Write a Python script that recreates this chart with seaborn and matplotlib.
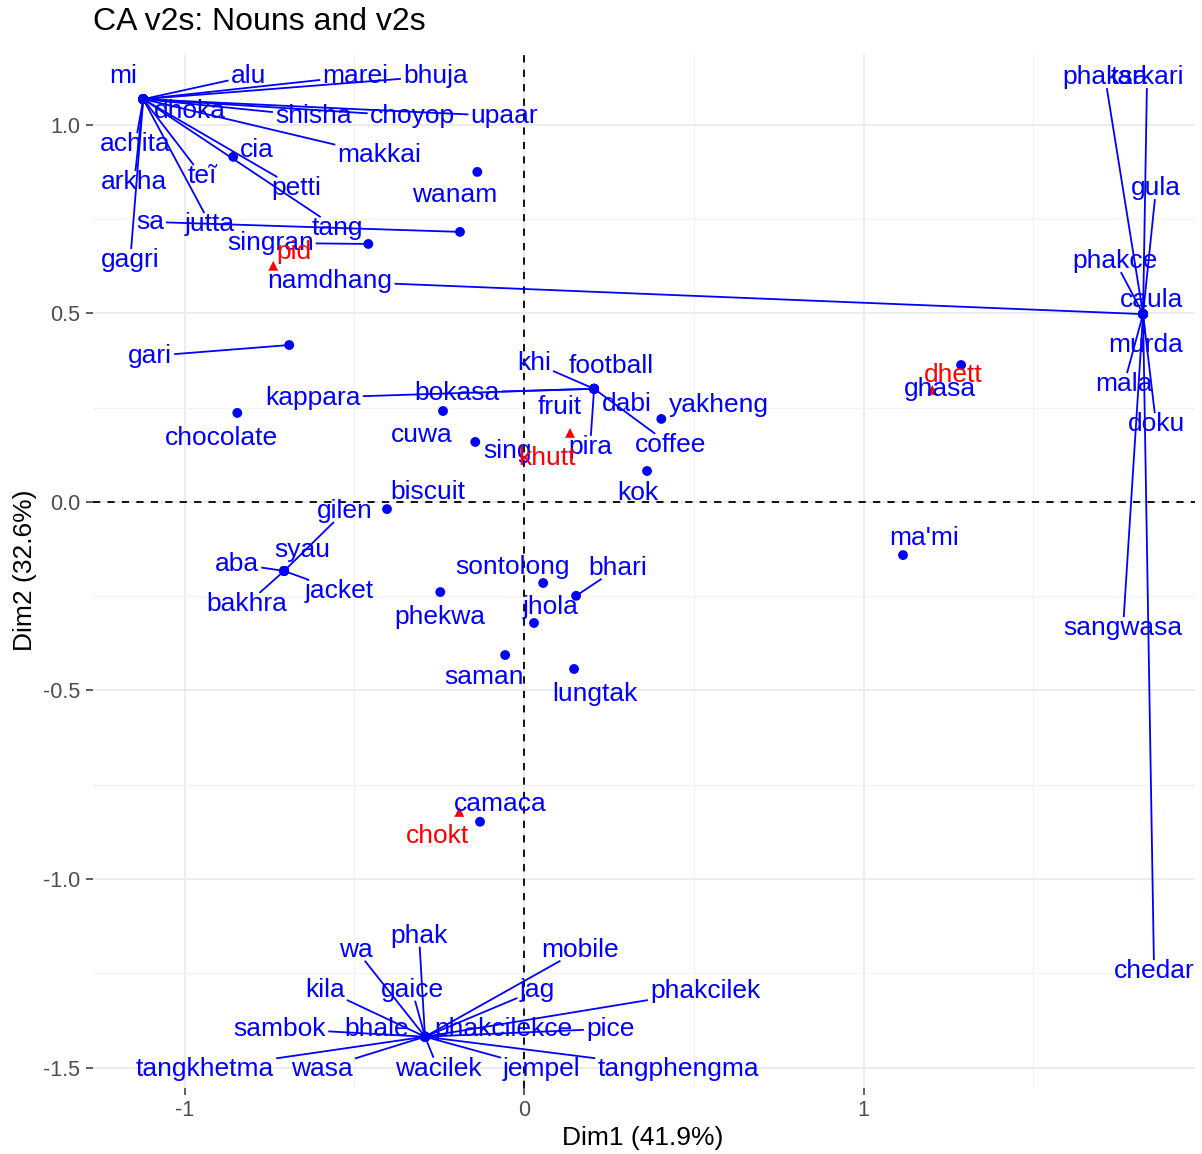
import numpy as np
import pandas as pd
import matplotlib
matplotlib.use("Agg")
import matplotlib.pyplot as plt
import matplotlib.transforms as mtransforms
from matplotlib.ticker import MultipleLocator
import seaborn as sns

# ---- Row coordinates: nouns (Dim1, Dim2) ----
nouns = [
    "mi", "alu", "marei", "bhuja", "dhoka", "shisha", "choyop", "upaar",
    "achita", "makkai", "arkha", "teĩ", "petti", "tang", "jutta", "gagri",
    "cia", "wanam", "sa", "singran", "gari", "chocolate", "cuwa", "sing",
    "khi", "football", "dabi", "fruit", "pira", "coffee", "kappara", "bokasa",
    "yakheng", "kok", "ghasa", "ma'mi",
    "phaksa", "tarkari", "gula", "phakce", "caula", "murda", "mala", "doku",
    "sangwasa", "chedar", "namdhang",
    "biscuit", "aba", "syau", "bakhra", "jacket", "gilen",
    "phekwa", "sontolong", "bhari", "jhola", "saman", "lungtak", "camaca",
    "phak", "wa", "mobile", "kila", "gaice", "jag", "phakcilek", "sambok",
    "bhale", "phakcilekce", "pice", "tangkhetma", "wasa", "wacilek", "jempel",
    "tangphengma",
]
noun_dim1 = [
    -1.122, -1.122, -1.122, -1.122, -1.122, -1.122, -1.122, -1.122,
    -1.122, -1.122, -1.122, -1.122, -1.122, -1.122, -1.122, -1.122,
    -0.857, -0.138, -0.189, -0.459, -0.692, -0.845, -0.239, -0.144,
    0.206, 0.206, 0.206, 0.206, 0.206, 0.206, 0.206, 0.206,
    0.404, 0.362, 1.287, 1.116,
    1.823, 1.823, 1.823, 1.823, 1.823, 1.823, 1.823, 1.823,
    1.823, 1.823, 1.823,
    -0.404, -0.707, -0.707, -0.707, -0.707, -0.707,
    -0.247, 0.056, 0.153, 0.029, -0.056, 0.147, -0.130,
    -0.292, -0.292, -0.292, -0.292, -0.292, -0.292, -0.292, -0.292,
    -0.292, -0.292, -0.292, -0.292, -0.292, -0.292, -0.292,
    -0.292,
]
noun_dim2 = [
    1.068, 1.068, 1.068, 1.068, 1.068, 1.068, 1.068, 1.068,
    1.068, 1.068, 1.068, 1.068, 1.068, 1.068, 1.068, 1.068,
    0.915, 0.875, 0.716, 0.684, 0.416, 0.236, 0.241, 0.159,
    0.300, 0.300, 0.300, 0.300, 0.300, 0.300, 0.300, 0.300,
    0.220, 0.082, 0.363, -0.141,
    0.498, 0.498, 0.498, 0.498, 0.498, 0.498, 0.498, 0.498,
    0.498, 0.498, 0.498,
    -0.019, -0.183, -0.183, -0.183, -0.183, -0.183,
    -0.239, -0.215, -0.249, -0.321, -0.406, -0.443, -0.848,
    -1.418, -1.418, -1.418, -1.418, -1.418, -1.418, -1.418, -1.418,
    -1.418, -1.418, -1.418, -1.418, -1.418, -1.418, -1.418,
    -1.418,
]

# ---- Column coordinates: v2s (Dim1, Dim2) ----
v2s = ["pid", "khutt", "dhett", "chokt"]
v2_dim1 = [-0.739, 0.135, 1.202, -0.191]
v2_dim2 = [0.626, 0.183, 0.297, -0.822]

pct_dim1 = 41.9
pct_dim2 = 32.6

# Label placement (pixel offsets from each point: right, up), repel-style layout
label_offset = {
    "mi": (-20, 23), "alu": (105, 23), "marei": (212, 23), "bhuja": (292, 23),
    "dhoka": (47, -12), "shisha": (170, -17), "choyop": (269, -17),
    "upaar": (361, -17), "achita": (-8, -45), "makkai": (236, -56),
    "arkha": (-9, -83), "teĩ": (59, -77), "petti": (153, -89),
    "tang": (194, -129), "jutta": (67, -125), "gagri": (-13, -161),
    "cia": (24, 7), "wanam": (-23, -23), "sa": (-310, 10),
    "singran": (-98, 1), "gari": (-139, -11), "chocolate": (-16, -25),
    "cuwa": (-21, -24), "sing": (32, -9),
    "khi": (-60, 26), "football": (17, 23), "dabi": (33, -15),
    "fruit": (-34, -18), "pira": (-4, -58), "coffee": (76, -56),
    "kappara": (-281, -9), "bokasa": (-137, -4),
    "yakheng": (58, 14), "kok": (-9, -22), "ghasa": (-21, -24),
    "ma'mi": (21, 17),
    "phaksa": (-38, 237), "tarkari": (4, 237), "gula": (13, 126),
    "phakce": (-28, 53), "caula": (9, 14), "murda": (3, -31),
    "mala": (-19, -70), "doku": (13, -110), "sangwasa": (-20, -314),
    "chedar": (11, -657), "namdhang": (-813, 33),
    "biscuit": (41, 17), "aba": (-47, 7), "syau": (18, 21),
    "bakhra": (-37, -33), "jacket": (55, -20), "gilen": (61, 60),
    "phekwa": (0, -25), "sontolong": (-31, 16), "bhari": (42, 28),
    "jhola": (17, 16), "saman": (-21, -22), "lungtak": (21, -25),
    "camaca": (20, 18),
    "phak": (-6, 101), "wa": (-69, 87), "mobile": (155, 87),
    "kila": (-100, 47), "gaice": (-13, 47), "jag": (112, 47),
    "phakcilek": (280, 46), "sambok": (-145, 8), "bhale": (-48, 8),
    "phakcilekce": (78, 8), "pice": (185, 8), "tangkhetma": (-220, -32),
    "wasa": (-103, -32), "wacilek": (13, -32), "jempel": (116, -32),
    "tangphengma": (253, -32),
    "pid": (21, 14), "khutt": (-23, -25), "dhett": (21, 15),
    "chokt": (-22, -24),
}

BLUE = "#0000FF"
RED = "#FF0000"

df = pd.concat([
    pd.DataFrame({"name": nouns, "Dim1": noun_dim1, "Dim2": noun_dim2, "kind": "row"}),
    pd.DataFrame({"name": v2s, "Dim1": v2_dim1, "Dim2": v2_dim2, "kind": "col"}),
], ignore_index=True)

sns.set_theme(style="white")
plt.rcParams["font.family"] = ["Liberation Sans", "DejaVu Sans"]
plt.rcParams["axes.unicode_minus"] = False

fig = plt.figure(figsize=(12.02, 11.54), dpi=100)
ax = fig.add_axes([93 / 1202, 1 - 1088 / 1154, (1195 - 93) / 1202, (1088 - 55) / 1154])

XLIM = (-1.27, 1.976)
YLIM = (-1.554, 1.185)

# grid (major + minor, theme_minimal style)
ax.xaxis.set_major_locator(MultipleLocator(1.0))
ax.xaxis.set_minor_locator(MultipleLocator(0.5))
ax.yaxis.set_major_locator(MultipleLocator(0.5))
ax.yaxis.set_minor_locator(MultipleLocator(0.25))
ax.set_xlim(*XLIM)
ax.set_ylim(*YLIM)
ax.grid(which="major", color="#EBEBEB", lw=1.3, zorder=0)
ax.grid(which="minor", color="#F2F2F2", lw=0.9, zorder=0)
ax.set_axisbelow(True)
for s in ax.spines.values():
    s.set_visible(False)
ax.tick_params(which="major", length=5, width=1.1, color="#333333",
               labelsize=15.5, labelcolor="#4D4D4D", pad=4, bottom=True, left=True)
ax.tick_params(which="minor", length=0)
yt = [-1.5, -1.0, -0.5, 0.0, 0.5, 1.0]
xt = [-1, 0, 1]
ax.set_yticks(yt)
ax.set_yticklabels([f"{v:.1f}" for v in yt])
ax.set_xticks(xt)
ax.set_xticklabels([f"{v:d}" for v in xt])
ax.set_xlim(*XLIM)
ax.set_ylim(*YLIM)

# reference lines at the origin
ax.axhline(0, color="black", ls=(0, (4, 4)), lw=1.3, zorder=1)
ax.axvline(0, color="black", ls=(0, (4, 4)), lw=1.3, zorder=1)

sns.scatterplot(data=df, x="Dim1", y="Dim2", hue="kind", style="kind",
                palette={"row": BLUE, "col": RED},
                markers={"row": "o", "col": "^"},
                s=50, linewidth=0, legend=False, ax=ax, zorder=3)

# labels
texts = []
for _, r in df.iterrows():
    dx, dy = label_offset[r["name"]]
    tr = mtransforms.offset_copy(ax.transData, fig=fig, x=dx, y=dy, units="dots")
    col = BLUE if r["kind"] == "row" else RED
    t = ax.text(r["Dim1"], r["Dim2"], r["name"], transform=tr, color=col,
                fontsize=19, ha="center", va="center", zorder=5)
    texts.append((t, r["Dim1"], r["Dim2"], col))

ax.set_xlabel("")
ax.set_ylabel("")

# connector segments: from each point toward its label centre, stopping at the label box;
# short ones are skipped
fig.canvas.draw()
renderer = fig.canvas.get_renderer()
inv = ax.transData.inverted()
for t, x, y, col in texts:
    bb = t.get_window_extent(renderer)
    px, py = ax.transData.transform((x, y))
    cx, cy = (bb.x0 + bb.x1) / 2, (bb.y0 + bb.y1) / 2
    hw, hh = bb.width / 2 + 2, bb.height / 2 - 1
    ddx, ddy = px - cx, py - cy
    scales = []
    if abs(ddx) > 1e-9:
        scales.append(hw / abs(ddx))
    if abs(ddy) > 1e-9:
        scales.append(hh / abs(ddy))
    if not scales:
        continue
    s = min(scales)
    if s >= 1:
        continue
    ex, ey = cx + ddx * s, cy + ddy * s
    if np.hypot(px - ex, py - ey) < 20:
        continue
    (ax_, ay_), (bx_, by_) = inv.transform([(px, py), (ex, ey)])
    ax.plot([ax_, bx_], [ay_, by_], color=col, lw=1.3, zorder=4,
            solid_capstyle="butt")

fig.text(93 / 1202, 1 - 22 / 1154, "CA v2s: Nouns and v2s", fontsize=23,
         color="black", ha="left", va="center")
fig.text(643 / 1202, 1 - 1138 / 1154, f"Dim1 ({pct_dim1}%)", fontsize=19,
         color="black", ha="center", va="center")
fig.text(25 / 1202, 1 - 570 / 1154, f"Dim2 ({pct_dim2}%)", fontsize=19,
         color="black", ha="center", va="center", rotation=90)

fig.savefig("out.png", dpi=100)
